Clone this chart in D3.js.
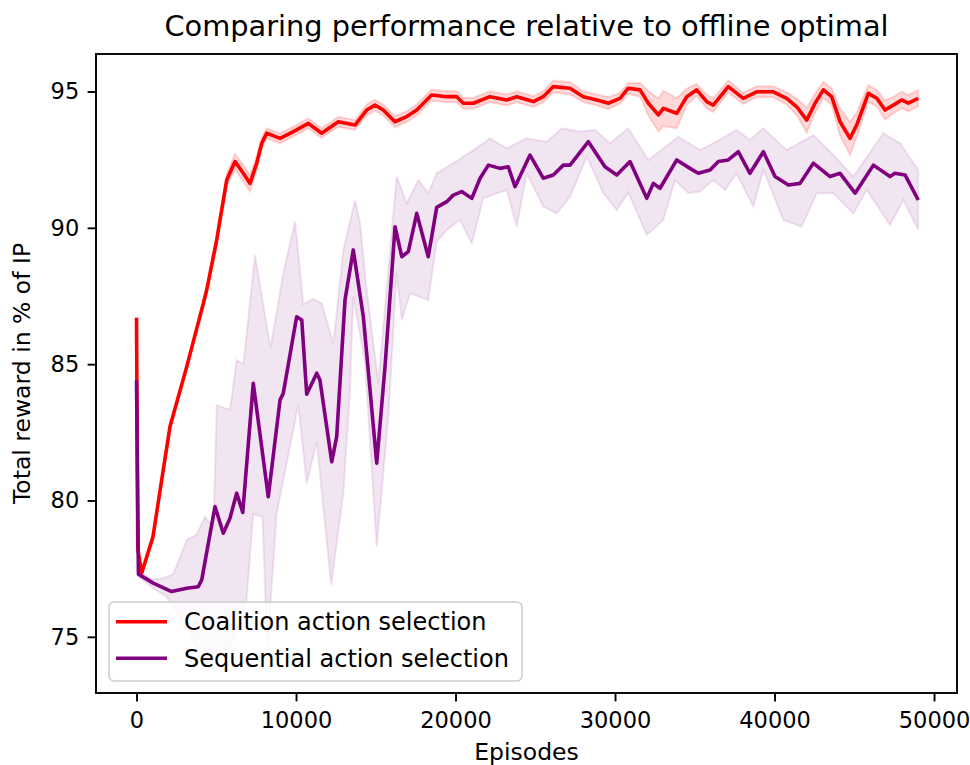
<!DOCTYPE html>
<html>
<head>
<meta charset="utf-8">
<script src="https://cdn.jsdelivr.net/npm/d3@7"></script>
<style>
  body { margin: 0; background: #fff; }
  svg text { font-family: "DejaVu Sans", sans-serif; fill: #000; }
</style>
</head>
<body>
<div id="chart"></div>
<script>
// x ticks / y ticks
var xTicks = [0, 10000, 20000, 30000, 40000, 50000];
var yTicks = [75, 80, 85, 90, 95];

// Coalition action selection (red): episode, mean, half width of band
var redEp = [0, 80, 330, 1030, 1580, 2100, 3150, 4190, 4400, 5030, 5235, 5655, 6176, 6696, 7116, 7536, 7850, 8163, 8476, 9000,
  9830, 10770, 11610, 12650, 13700, 14430, 14950, 15470, 16200, 16940, 17570, 18500, 19450, 20075, 20490, 21120, 22160,
  23210, 23840, 24880, 25500, 26130, 27180, 28010, 28850, 29580, 30310, 30830, 31570, 32090, 32715, 33030, 33870, 34500,
  35120, 35750, 36160, 37100, 38040, 38880, 39920, 40760, 41390, 42020, 42540, 43060, 43580, 44110, 44730, 45150, 45880,
  46410, 46930, 47450, 47970, 48390, 49010];
var redMean = [86.7, 78.2, 77.35, 78.66, 80.76, 82.71, 84.91, 87.23, 87.72, 89.56, 90.29, 91.75, 92.43, 92.0, 91.63, 92.37, 93.1, 93.47, 93.4, 93.28,
  93.53, 93.83, 93.47, 93.89, 93.77, 94.32, 94.5, 94.32, 93.89, 94.08, 94.32, 94.87, 94.81, 94.81, 94.57, 94.57, 94.81,
  94.69, 94.81, 94.63, 94.81, 95.18, 95.12, 94.81, 94.69, 94.57, 94.75, 95.12, 95.06, 94.57, 94.14, 94.38, 94.2, 94.81,
  95.06, 94.63, 94.5, 95.18, 94.75, 94.99, 94.99, 94.75, 94.44, 93.95, 94.57, 95.06, 94.81, 93.89, 93.28, 93.77, 94.93,
  94.75, 94.32, 94.5, 94.69, 94.57, 94.75];
var redHalf = [0.05, 0.05, 0.05, 0.08, 0.1, 0.1, 0.1, 0.12, 0.12, 0.15, 0.18, 0.22, 0.28, 0.3, 0.3, 0.25, 0.2, 0.18, 0.18, 0.18,
  0.18, 0.18, 0.18, 0.18, 0.18, 0.2, 0.2, 0.2, 0.2, 0.2, 0.2, 0.2, 0.2, 0.2, 0.2, 0.2, 0.2,
  0.2, 0.2, 0.2, 0.2, 0.22, 0.22, 0.2, 0.2, 0.22, 0.2, 0.2, 0.25, 0.45, 0.6, 0.65, 0.55, 0.3,
  0.22, 0.25, 0.25, 0.22, 0.2, 0.2, 0.2, 0.22, 0.3, 0.45, 0.35, 0.3, 0.3, 0.5, 0.6, 0.45, 0.3,
  0.3, 0.35, 0.3, 0.3, 0.3, 0.3];

// Sequential action selection (purple): mean
var purpleEp = [0, 120, 1050, 2200, 3150, 3870, 4090, 4920, 5440, 5860, 6280, 6660, 7320, 8260, 9000, 9200, 10040, 10360,
  10670, 11300, 11500, 12240, 12550, 13070, 13590, 14220, 15060, 15580, 16210, 16630, 17040, 17570, 18290, 18820, 19450,
  19860, 20390, 21020, 21540, 22060, 22790, 23310, 23730, 24670, 25500, 26130, 26760, 27180, 28330, 28900, 29370, 30110,
  30940, 31990, 32400, 32820, 33870, 34700, 35220, 35960, 36480, 37100, 37730, 38460, 39300, 40030, 40870, 41600, 42430,
  43480, 44110, 45050, 46200, 47240, 47550, 48180, 49010];
var purpleMean = [84.4, 77.3, 76.97, 76.66, 76.78, 76.84, 77.09, 79.78, 78.8, 79.35, 80.27, 79.56, 84.3, 80.14, 83.69, 83.93, 86.74, 86.62,
  83.9, 84.67, 84.42, 81.42, 82.34, 87.35, 89.19, 86.74, 81.37, 84.91, 90.04, 88.94, 89.13, 90.53, 88.94, 90.75, 90.96,
  91.2, 91.33, 91.08, 91.82, 92.3, 92.18, 92.24, 91.51, 92.67, 91.82, 91.94, 92.3, 92.3, 93.16, 92.65, 92.24, 91.94,
  92.43, 91.08, 91.63, 91.45, 92.49, 92.18, 92.0, 92.12, 92.43, 92.49, 92.79, 92.0, 92.79, 91.88, 91.57, 91.63, 92.37,
  91.88, 92.0, 91.27, 92.3, 91.88, 92.0, 91.94, 91.02];

// purple band upper edge
var purpleHiEp = [0, 150, 1000, 1680, 2300, 3150, 3770, 4290, 4820, 5030, 5860, 6280, 6700, 7430, 8400, 9200, 9940, 10460,
  11080, 11610, 12340, 12970, 13700, 14010, 14430, 15160, 16310, 16940, 17670, 18290, 18820, 19860, 21120, 22160, 23210,
  24460, 25720, 26660, 27810, 28750, 29690, 30830, 32090, 33970, 35330, 36160, 37620, 38460, 39300, 40760, 42430, 43690,
  44940, 46820, 47870, 49010];
var purpleHi = [84.5, 77.4, 77.1, 77.15, 77.3, 78.55, 78.75, 79.4, 79.0, 83.5, 83.32, 85.15, 85.0, 89.0, 85.6, 88.33, 90.23, 87.2,
  87.4, 87.23, 85.77, 89.2, 91.0, 90.2, 87.72, 84.3, 91.88, 90.9, 91.75, 91.27, 92.0, 92.37, 92.85, 93.28, 92.92,
  93.28, 93.16, 93.65, 93.53, 93.59, 93.1, 93.65, 92.49, 93.34, 92.85, 93.1, 93.59, 93.22, 93.65, 92.85, 93.4, 92.67,
  91.88, 93.47, 93.1, 92.12];

// purple band lower edge
var purpleLoEp = [0, 150, 1000, 1890, 3000, 4000, 5000, 6000, 6900, 7320, 7900, 8200, 8790, 10140, 10670, 11300, 12200, 12970,
  13380, 13590, 14330, 15060, 15790, 16310, 16630, 17150, 18290, 18820, 19450, 20280, 21020, 21740, 23210, 23840, 24460,
  25500, 26340, 27180, 28230, 29270, 30110, 30830, 31990, 33030, 33760, 34600, 35330, 36160, 36900, 37620, 38670, 39300,
  40550, 41700, 42650, 43690, 44940, 45780, 47240, 48080, 49010];
var purpleLo = [84.3, 77.2, 76.8, 76.47, 75.5, 74.3, 74.0, 74.8, 76.35, 79.5, 79.4, 74.5, 79.53, 83.5, 80.63, 82.15, 76.9, 80.27,
  84.0, 87.48, 85.03, 78.3, 83.07, 88.33, 86.62, 87.6, 87.35, 89.5, 89.92, 90.29, 89.43, 91.08, 91.39, 90.04, 92.0,
  90.78, 90.53, 91.14, 92.61, 91.27, 90.65, 91.3, 89.74, 90.29, 91.75, 91.27, 91.33, 91.75, 91.39, 92.0, 90.78, 92.12,
  90.29, 90.04, 91.27, 91.27, 90.53, 91.39, 90.1, 91.02, 89.92];

var seriesNames = ["Coalition action selection", "Sequential action selection"];
var seriesColors = ["#ff0000", "#800080"];

function draw_chart() {
  var svg_width = 970, svg_height = 765;
  var left = 96, right = 957, top = 54, bottom = 693;

  var svg = d3.select("#chart").append("svg")
      .attr("width", svg_width).attr("height", svg_height);

  var x = d3.scaleLinear().domain([-2540, 51440]).range([left, right]);
  var y = d3.scaleLinear().domain([72.94, 96.375]).range([bottom, top]);

  svg.append("clipPath").attr("id", "plotclip").append("rect")
      .attr("x", left).attr("y", top).attr("width", right - left).attr("height", bottom - top);
  var plot = svg.append("g").attr("clip-path", "url(#plotclip)");

  // red band + line
  var redPts = redEp.map(function(e, i) { return {ep: e, m: redMean[i], h: redHalf[i]}; });
  var redArea = d3.area()
      .x(function(d) { return x(d.ep); })
      .y0(function(d) { return y(d.m - d.h); })
      .y1(function(d) { return y(d.m + d.h); });
  plot.append("path").datum(redPts).attr("d", redArea)
      .attr("fill", "rgba(255,0,0,0.15)").attr("stroke", "rgba(255,0,0,0.15)").attr("stroke-width", 2);

  var line = d3.line().x(function(d) { return x(d[0]); }).y(function(d) { return y(d[1]); });

  plot.append("path").datum(redEp.map(function(e, i) { return [e, redMean[i]]; }))
      .attr("d", line).attr("fill", "none").attr("stroke", seriesColors[0])
      .attr("stroke-width", 3.6).attr("stroke-linejoin", "round").attr("stroke-linecap", "butt");

  // purple band: upper edge forward, lower edge back
  var upper = purpleHiEp.map(function(e, i) { return [e, purpleHi[i]]; });
  var lower = purpleLoEp.map(function(e, i) { return [e, purpleLo[i]]; }).reverse();
  plot.append("path").attr("d", line(upper.concat(lower)) + "Z")
      .attr("fill", "rgba(128,0,128,0.1)").attr("stroke", "rgba(128,0,128,0.1)").attr("stroke-width", 2);

  plot.append("path").datum(purpleEp.map(function(e, i) { return [e, purpleMean[i]]; }))
      .attr("d", line).attr("fill", "none").attr("stroke", seriesColors[1])
      .attr("stroke-width", 3.6).attr("stroke-linejoin", "round").attr("stroke-linecap", "butt");

  // axes
  var xAxis = svg.append("g").attr("transform", "translate(0," + bottom + ")")
      .call(d3.axisBottom(x).tickValues(xTicks).tickSize(8.4).tickPadding(11).tickFormat(d3.format("d")));
  var yAxis = svg.append("g").attr("transform", "translate(" + left + ",0)")
      .call(d3.axisLeft(y).tickValues(yTicks).tickSize(8.4).tickPadding(8.4).tickFormat(d3.format("d")));
  [xAxis, yAxis].forEach(function(a) {
    a.select(".domain").remove();
    a.selectAll(".tick line").attr("stroke", "#000").attr("stroke-width", 1.9);
    a.selectAll("text").attr("font-family", "DejaVu Sans").attr("font-size", "22.5px").attr("fill", "#000");
  });

  // frame
  svg.append("rect").attr("x", left).attr("y", top).attr("width", right - left).attr("height", bottom - top)
      .attr("fill", "none").attr("stroke", "#000").attr("stroke-width", 1.9);

  // labels
  svg.append("text").text("Comparing performance relative to offline optimal")
      .attr("x", (left + right) / 2).attr("y", 36).attr("text-anchor", "middle").attr("font-size", "28.8px");
  svg.append("text").text("Episodes")
      .attr("x", (left + right) / 2).attr("y", 760).attr("text-anchor", "middle").attr("font-size", "23.5px");
  svg.append("text").text("Total reward in % of IP")
      .attr("transform", "translate(30," + ((top + bottom) / 2) + ") rotate(-90)")
      .attr("text-anchor", "middle").attr("font-size", "23.5px");

  // legend
  var lg = svg.append("g");
  lg.append("rect").attr("x", 109).attr("y", 602).attr("width", 413).attr("height", 79)
      .attr("rx", 5).attr("fill", "rgba(255,255,255,0.8)").attr("stroke", "#cccccc").attr("stroke-width", 1.5);
  seriesNames.forEach(function(name, i) {
    var ly = 621.7 + i * 36.6;
    lg.append("line").attr("x1", 116).attr("x2", 167).attr("y1", ly).attr("y2", ly)
        .attr("stroke", seriesColors[i]).attr("stroke-width", 3.6);
    lg.append("text").text(name).attr("x", 184).attr("y", ly + 8.5).attr("font-size", "24px");
  });
}

draw_chart();
</script>
</body>
</html>
